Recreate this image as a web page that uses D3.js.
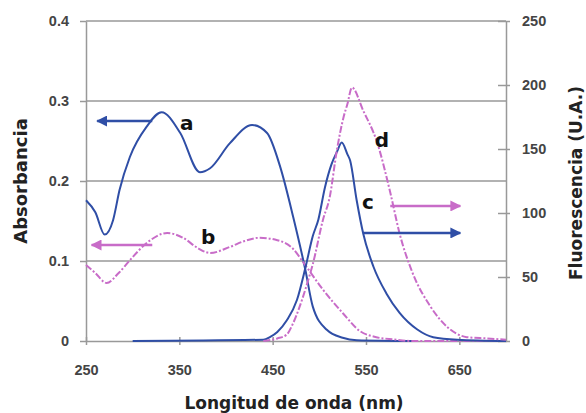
<!DOCTYPE html>
<html>
<head>
<meta charset="utf-8">
<script src="https://cdn.jsdelivr.net/npm/d3@7"></script>
<style>
  body { margin: 0; background: #fff; }
  svg { display: block; font-family: "DejaVu Sans", Verdana, sans-serif; }
  .tick text { fill: #444; font-size: 14.5px; font-weight: bold; }
  .title { font-weight: bold; font-size: 17px; fill: #222; }
  .lbl { font-weight: bold; font-size: 20px; fill: #111; }
</style>
</head>
<body>
<div id="chart"></div>
<script>
// absorbance spectra (left axis)
const nmA  = [250, 260, 270, 279, 286, 297, 315, 331, 351, 372, 383, 404, 428, 444, 458, 472, 485, 493, 508, 525, 540, 600];
const absA = [0.176, 0.161, 0.133, 0.151, 0.189, 0.23, 0.268, 0.286, 0.26, 0.211, 0.216, 0.247, 0.27, 0.26, 0.218, 0.155, 0.089, 0.043, 0.014, 0.004, 0.001, 0];

const nmB  = [250, 260, 272, 285, 297, 315, 337, 354, 370, 383, 404, 420, 436, 455, 472, 483, 504, 525, 544, 560, 580, 600, 700];
const absB = [0.095, 0.085, 0.0725, 0.085, 0.101, 0.1225, 0.135, 0.129, 0.116, 0.11, 0.1175, 0.125, 0.129, 0.126, 0.115, 0.098, 0.064, 0.035, 0.012, 0.005, 0.002, 0, 0];

// fluorescence spectra (right axis)
const nmC  = [300, 440, 447, 455, 465, 476, 485, 493, 499, 506, 513, 519, 524, 530, 533, 540, 547, 558, 572, 586, 605, 622, 648, 700];
const fluC = [0, 1, 3, 7, 16, 32, 57, 82, 95, 120, 138, 148, 155, 146, 141, 110, 84, 58, 37, 22, 9, 3, 1, 0];

const nmD  = [440, 455, 465, 472, 479, 487, 493, 504, 511, 519, 526, 530, 535, 547, 562, 576, 586, 600, 619, 637, 658, 680, 700];
const fluD = [0, 2, 5, 14, 27, 45, 60, 95, 112, 150, 175, 185, 198, 180, 155, 116, 84, 53, 27, 11, 3, 2, 1];

const xTicks = [250, 350, 450, 550, 650];
const yLeftTicks = [0, 0.1, 0.2, 0.3, 0.4];
const yRightTicks = [0, 50, 100, 150, 200, 250];

// annotations: [label, axis, arrow y, arrow from nm, arrow to nm, label nm, label y]
const notes = [
  ['a', 'L', 0.275, 321, 262, 358, 0.2725],
  ['b', 'L', 0.12, 321, 256, 381, 0.13],
  ['c', 'R', 84.4, 547, 651, 552, 108.6],
  ['d', 'R', 105.5, 576, 651, 567, 157]
];

const W = 586, H = 413;
const m = { left: 86, right: 80, top: 21, bottom: 72 };
const blue = '#2f4ea6', pink = '#c86cc8';

const svg = d3.select('#chart').append('svg').attr('width', W).attr('height', H);

const x = d3.scaleLinear().domain([250, 700]).range([m.left, W - m.right]);
const yL = d3.scaleLinear().domain([0, 0.4]).range([H - m.bottom, m.top]);
const yR = d3.scaleLinear().domain([0, 250]).range([H - m.bottom, m.top]);

// gridlines
svg.append('g').selectAll('line').data(yLeftTicks.slice(1)).join('line')
  .attr('x1', m.left).attr('x2', W - m.right)
  .attr('y1', d => yL(d)).attr('y2', d => yL(d))
  .attr('stroke', '#999').attr('stroke-width', 1.5);

function styleAxis(g) {
  g.select('.domain').attr('stroke', '#999').attr('stroke-width', 1.5);
  g.selectAll('.tick line').attr('stroke', '#999').attr('stroke-width', 1.5);
}

svg.append('g').attr('transform', `translate(${m.left},0)`)
  .call(d3.axisLeft(yL).tickValues(yLeftTicks).tickFormat(d => d === 0 ? '0' : d3.format('.1f')(d)).tickSize(6).tickSizeOuter(0).tickPadding(11))
  .call(styleAxis);

svg.append('g').attr('transform', `translate(${W - m.right},0)`)
  .call(d3.axisRight(yR).tickValues(yRightTicks).tickSize(4).tickSizeOuter(0).tickPadding(12))
  .call(styleAxis)
  .call(g => g.selectAll('.tick line').attr('x1', -8));

svg.append('g').attr('transform', `translate(0,${H - m.bottom})`)
  .call(d3.axisBottom(x).tickValues(xTicks).tickSize(4).tickSizeOuter(0).tickPadding(20))
  .call(styleAxis)
  .call(g => g.selectAll('.tick line').attr('y1', -4));

// spectra
const lineL = d3.line().x(d => x(d[0])).y(d => yL(d[1])).curve(d3.curveMonotoneX);
const lineR = d3.line().x(d => x(d[0])).y(d => yR(d[1])).curve(d3.curveMonotoneX);

const series = [
  { pts: d3.zip(nmA, absA), line: lineL, color: blue, dash: null },
  { pts: d3.zip(nmB, absB), line: lineL, color: pink, dash: '7,2,2,2' },
  { pts: d3.zip(nmC, fluC), line: lineR, color: blue, dash: null },
  { pts: d3.zip(nmD, fluD), line: lineR, color: pink, dash: '7,2,2,2' }
];

svg.append('g').selectAll('path').data(series).join('path')
  .attr('d', d => d.line(d.pts))
  .attr('fill', 'none')
  .attr('stroke', d => d.color)
  .attr('stroke-width', 2)
  .attr('stroke-dasharray', d => d.dash);

// arrow heads
const defs = svg.append('defs');
[['blue', blue], ['pink', pink]].forEach(([id, c]) => {
  defs.append('marker').attr('id', 'arr-' + id)
    .attr('viewBox', '0 0 10 10').attr('refX', 9).attr('refY', 5)
    .attr('markerWidth', 11).attr('markerHeight', 11).attr('markerUnits', 'userSpaceOnUse')
    .attr('orient', 'auto')
    .append('path').attr('d', 'M0,0L10,5L0,10Z').attr('fill', c);
});

const ann = svg.append('g');
notes.forEach(([t, ax, yv, from, to, lx, ly]) => {
  const ys = ax === 'L' ? yL : yR;
  const c = (t === 'a' || t === 'c') ? blue : pink;
  ann.append('line')
    .attr('x1', x(from)).attr('x2', x(to))
    .attr('y1', ys(yv)).attr('y2', ys(yv))
    .attr('stroke', c).attr('stroke-width', 2.5)
    .attr('marker-end', `url(#arr-${c === blue ? 'blue' : 'pink'})`);
  ann.append('text').attr('class', 'lbl')
    .attr('x', x(lx)).attr('y', ys(ly)).attr('dy', '0.35em')
    .attr('text-anchor', 'middle').text(t);
});

// axis titles
svg.append('text').attr('class', 'title')
  .attr('x', 294).attr('y', 409)
  .attr('text-anchor', 'middle').text('Longitud de onda (nm)');
svg.append('text').attr('class', 'title').style('font-size', '18px')
  .attr('transform', `translate(27,${yL(0.2)}) rotate(-90)`)
  .attr('text-anchor', 'middle').text('Absorbancia');
svg.append('text').attr('class', 'title')
  .attr('transform', `translate(582,183) rotate(-90)`)
  .attr('text-anchor', 'middle').text('Fluorescencia (U.A.)');
</script>
</body>
</html>
